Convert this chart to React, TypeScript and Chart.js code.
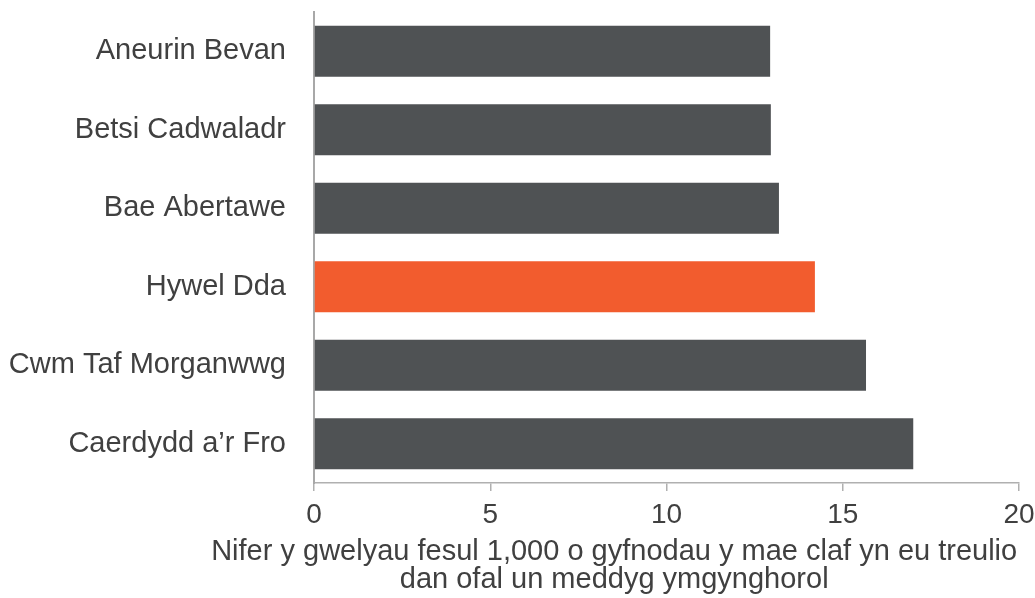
import React, { useEffect, useRef } from "react";
import { Chart, registerables } from "chart.js";

Chart.register(...registerables);

const categories = [
  "Aneurin Bevan",
  "Betsi Cadwaladr",
  "Bae Abertawe",
  "Hywel Dda",
  "Cwm Taf Morganwwg",
  "Caerdydd a\u2019r Fro",
];
const values = [12.94, 12.96, 13.19, 14.21, 15.66, 17.0];
const highlighted = "Hywel Dda";
const xTicks = [0, 5, 10, 15, 20];
const axisTitleLines = [
  "Nifer y gwelyau fesul 1,000 o gyfnodau y mae claf yn eu treulio",
  "dan ofal un meddyg ymgynghorol",
];
// leading spaces shift the centred title right, as in the original layout
const titleIndent = " ".repeat(24);

const GREY = "#4f5254";
const ORANGE = "#f25c2e";
const TEXT = "#404040";
const FONT = "'Liberation Sans', Arial, sans-serif";

export default function App() {
  const ref = useRef<HTMLCanvasElement | null>(null);

  useEffect(() => {
    if (!ref.current) return;
    const chart = new Chart(ref.current, {
      type: "bar",
      data: {
        labels: categories,
        datasets: [
          {
            data: values,
            backgroundColor: categories.map((c) => (c === highlighted ? ORANGE : GREY)),
            borderWidth: 0,
            barPercentage: 0.65,
            categoryPercentage: 1,
          },
        ],
      },
      options: {
        indexAxis: "y",
        responsive: false,
        animation: false,
        devicePixelRatio: 1,
        layout: { padding: { left: 0, right: 0, top: 12, bottom: 0 } },
        plugins: {
          legend: { display: false },
          tooltip: { enabled: false },
          title: {
            display: true,
            position: "bottom",
            fullSize: true,
            text: axisTitleLines.map((l) => titleIndent + l),
            color: TEXT,
            font: { family: FONT, size: 29, lineHeight: "28px", weight: "normal" },
            padding: { top: 0, bottom: 4 },
          },
        },
        scales: {
          x: {
            min: 0,
            max: 20,
            afterBuildTicks: (scale: any) => {
              scale.ticks = xTicks.map((v) => ({ value: v }));
            },
            afterFit: (scale: any) => {
              scale.height = 55;
              scale.paddingLeft = 0;
              scale.paddingRight = 16;
            },
            grid: {
              display: true,
              drawOnChartArea: false,
              drawTicks: true,
              tickLength: 8,
              color: "#b0b0b0",
              lineWidth: 1.5,
            },
            border: { display: true, color: "#b0b0b0", width: 1.5 },
            ticks: {
              color: TEXT,
              padding: 7,
              font: { family: FONT, size: 28 },
              maxRotation: 0,
            },
          },
          y: {
            afterFit: (scale: any) => {
              scale.width = 314;
              scale.paddingTop = 0;
              scale.paddingBottom = 0;
            },
            grid: { display: false, drawTicks: false },
            border: { display: true, color: "#a8a8a8", width: 2 },
            ticks: {
              color: TEXT,
              padding: 28,
              font: { family: FONT, size: 29 },
            },
          },
        },
      },
    });
    return () => chart.destroy();
  }, []);

  return (
    <div style={{ position: "fixed", left: 0, top: 0, width: 1035, height: 598, background: "#fff" }}>
      <canvas ref={ref} width={1035} height={598} style={{ display: "block" }} />
    </div>
  );
}
